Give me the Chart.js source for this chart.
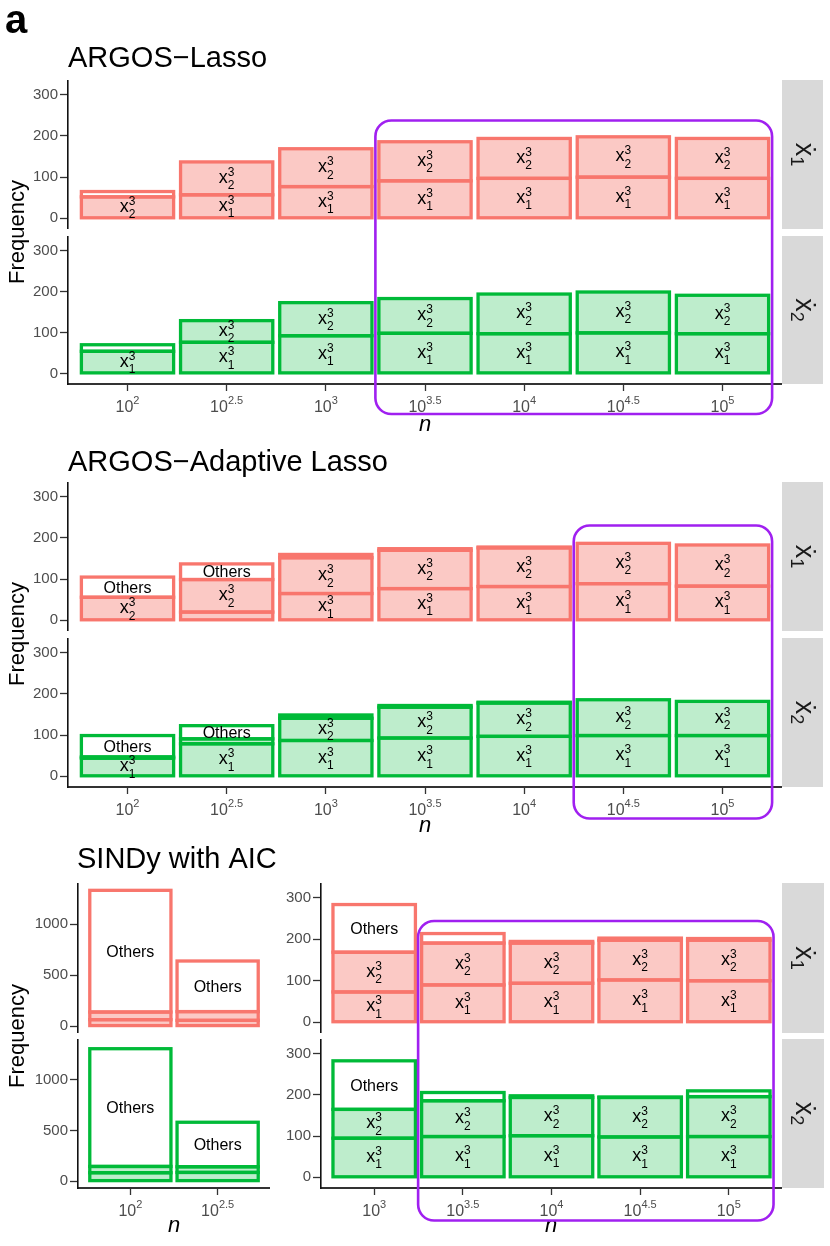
<!DOCTYPE html>
<html>
<head>
<meta charset="utf-8">
<script src="https://cdn.jsdelivr.net/npm/chart.js@4.4.1/dist/chart.umd.min.js"></script>
<style>
    html, body { margin: 0; padding: 0; background: #fff; }
    #page { position: relative; width: 830px; height: 1246px; overflow: hidden; }
    #page canvas { position: absolute; }
</style>
</head>
<body>
<div id="page"></div>
<script>
// Tick labels (n = 10^exp)
const lassoExp = ['2', '2.5', '3', '3.5', '4', '4.5', '5'];
const sindyLeftExp = ['2', '2.5'];
const sindyRightExp = ['3', '3.5', '4', '4.5', '5'];
const smallTicks = [0, 100, 200, 300];
const bigTicks = [0, 500, 1000];

// ARGOS-Lasso: frequency of x1^3, x2^3 and other terms
const lassoX1dotX1 = [0, 57, 77, 91, 97, 100, 97];
const lassoX1dotX2 = [52, 80, 92, 95, 97, 98, 97];
const lassoX1dotOth = [13, 0, 0, 0, 0, 0, 0];
const lassoX2dotX1 = [54, 76, 92, 98, 97, 99, 97];
const lassoX2dotX2 = [0, 53, 81, 85, 97, 100, 94];
const lassoX2dotOth = [16, 0, 0, 0, 0, 0, 0];

// ARGOS-Adaptive Lasso
const adaX1dotX1 = [0, 20, 65, 77, 82, 89, 83];
const adaX1dotX2 = [56, 79, 87, 93, 94, 98, 100];
const adaX1dotOth = [49, 38, 8, 4, 2, 0, 0];
const adaX2dotX1 = [44, 79, 87, 93, 97, 99, 99];
const adaX2dotX2 = [3, 12, 54, 75, 81, 87, 83];
const adaX2dotOth = [52, 32, 8, 4, 2, 0, 0];

// SINDy with AIC, small n (own y scale)
const sindyLX1dotX1 = [63, 56];
const sindyLX1dotX2 = [75, 86];
const sindyLX1dotOth = [1195, 497];
const sindyLX2dotX1 = [83, 86];
const sindyLX2dotX2 = [62, 56];
const sindyLX2dotOth = [1164, 440];

// SINDy with AIC, large n
const sindyRX1dotX1 = [73, 90, 94, 102, 100];
const sindyRX1dotX2 = [96, 101, 97, 96, 98];
const sindyRX1dotOth = [115, 23, 4, 5, 4];
const sindyRX2dotX1 = [95, 99, 101, 98, 99];
const sindyRX2dotX2 = [70, 87, 93, 96, 97];
const sindyRX2dotOth = [118, 20, 4, 1, 14];

// Styles
const FONT = '"Liberation Sans", Arial, Helvetica, sans-serif';
const RED = '#F8766D', RED_FILL = '#FBC9C5';
const GREEN = '#00BA38', GREEN_FILL = '#BEEDCC';
const PURPLE = '#A020F0';
const AXIS_H = 36;
const page = document.getElementById('page');

// Draws "x" with sub- and superscript, centred on (cx, cy)
function drawTerm(ctx, sub, sup, cx, cy) {
    ctx.font = '18px ' + FONT;
    const wx = ctx.measureText('x').width;
    ctx.font = '12px ' + FONT;
    const ws = ctx.measureText(sup).width;
    const x0 = cx - (wx + ws) / 2;
    ctx.textAlign = 'left';
    ctx.textBaseline = 'alphabetic';
    ctx.font = '18px ' + FONT;
    ctx.fillText('x', x0, cy + 4.5);
    ctx.font = '12px ' + FONT;
    ctx.fillText(sup, x0 + wx, cy - 2.5);
    ctx.fillText(sub, x0 + wx, cy + 11);
}

// Outlines, segment labels and tick labels
const panelPlugin = {
    id: 'panel',
    afterDatasetsDraw(chart) {
        const ctx = chart.ctx;
        const opts = chart.options.plugins.panel;
        ctx.save();
        chart.data.datasets.forEach((ds, di) => {
            chart.getDatasetMeta(di).data.forEach((bar, i) => {
                if (!(ds.data[i] > 0)) return;
                const { x, y, base, width } = bar.getProps(['x', 'y', 'base', 'width'], true);
                ctx.strokeStyle = opts.color;
                ctx.lineWidth = 3.3;
                ctx.strokeRect(x - width / 2, Math.min(y, base), width, Math.abs(base - y));
            });
        });
        ctx.fillStyle = '#000';
        chart.data.datasets.forEach((ds, di) => {
            chart.getDatasetMeta(di).data.forEach((bar, i) => {
                if (!(ds.data[i] > 0)) return;
                const { x, y, base } = bar.getProps(['x', 'y', 'base'], true);
                if (Math.abs(base - y) < 12) return;
                const cy = (y + base) / 2;
                if (ds.kind === 'oth') {
                    ctx.font = '16px ' + FONT;
                    ctx.textAlign = 'center';
                    ctx.textBaseline = 'middle';
                    ctx.fillText('Others', x, cy + 1);
                } else {
                    drawTerm(ctx, ds.kind === 'x1' ? '1' : '2', '3', x, cy);
                }
            });
        });
        ctx.restore();
    },
    afterDraw(chart) {
        const ctx = chart.ctx;
        const opts = chart.options.plugins.panel;
        const area = chart.chartArea;
        const sy = chart.scales.y, sx = chart.scales.x;
        ctx.save();
        ctx.fillStyle = '#4D4D4D';
        ctx.font = '15px ' + FONT;
        ctx.textAlign = 'right';
        ctx.textBaseline = 'middle';
        sy.ticks.forEach(t => ctx.fillText(String(t.value), area.left - 10, sy.getPixelForValue(t.value)));
        if (opts.showX) {
            opts.exps.forEach((e, i) => {
                const px = sx.getPixelForValue(i);
                ctx.font = '16px ' + FONT;
                const w10 = ctx.measureText('10').width;
                ctx.font = '11px ' + FONT;
                const we = ctx.measureText(e).width;
                const x0 = px - (w10 + we) / 2;
                ctx.textAlign = 'left';
                ctx.textBaseline = 'alphabetic';
                ctx.font = '16px ' + FONT;
                ctx.fillText('10', x0, area.bottom + 28);
                ctx.font = '11px ' + FONT;
                ctx.fillText(e, x0 + w10, area.bottom + 19.5);
            });
        }
        ctx.restore();
    }
};

// One facet panel = one chart
function makePanel(p) {
    const h = p.plotH + (p.showX ? AXIS_H : 0);
    const cv = document.createElement('canvas');
    cv.width = p.width;
    cv.height = h;
    cv.style.left = p.left + 'px';
    cv.style.top = p.top + 'px';
    cv.style.width = p.width + 'px';
    cv.style.height = h + 'px';
    page.appendChild(cv);

    const mk = (vals, kind) => ({
        label: kind,
        kind: kind,
        data: vals,
        backgroundColor: kind === 'oth' ? '#ffffff' : p.fill,
        borderWidth: 0,
        categoryPercentage: 1,
        barPercentage: 0.93
    });

    const xScale = {
        type: 'linear', stacked: true, offset: false, display: p.showX,
        min: -0.6, max: p.exps.length - 0.4,
        ticks: { display: false },
        afterBuildTicks: s => { s.ticks = p.exps.map((_, i) => ({ value: i })); },
        grid: { offset: false, drawOnChartArea: false, drawTicks: true, tickLength: 7, tickColor: '#333', tickWidth: 1.3 },
        border: { display: true, color: '#333', width: 2 }
    };
    if (p.showX) xScale.afterFit = s => { s.height = AXIS_H; };

    return new Chart(cv, {
        type: 'bar',
        data: {
            labels: p.exps.map((_, i) => i),
            datasets: [mk(p.x1, 'x1'), mk(p.x2, 'x2'), mk(p.oth, 'oth')]
        },
        options: {
            responsive: false,
            animation: false,
            layout: { padding: 0 },
            plugins: {
                legend: { display: false },
                tooltip: { enabled: false },
                panel: { color: p.color, showX: p.showX, exps: p.exps }
            },
            scales: {
                x: xScale,
                y: {
                    type: 'linear', stacked: true, min: p.yMin, max: p.yMax,
                    ticks: { display: false },
                    afterBuildTicks: s => { s.ticks = p.yTicks.map(v => ({ value: v })); },
                    grid: { drawOnChartArea: false, drawTicks: true, tickLength: 8, tickColor: '#333', tickWidth: 1.3 },
                    border: { display: true, color: '#111', width: 1.6 },
                    afterFit: s => { s.width = p.axisW; }
                }
            }
        },
        plugins: [panelPlugin]
    });
}

const small = { yMin: -26, yMax: 336, yTicks: smallTicks };
const big = { yMin: -68, yMax: 1405, yTicks: bigTicks };

// ARGOS-Lasso
const lassoTop = makePanel({ left: 0, top: 80, width: 782, axisW: 68, plotH: 149, showX: false, exps: lassoExp,
    x1: lassoX1dotX1, x2: lassoX1dotX2, oth: lassoX1dotOth, color: RED, fill: RED_FILL, ...small });
const lassoBot = makePanel({ left: 0, top: 236, width: 782, axisW: 68, plotH: 148, showX: true, exps: lassoExp,
    x1: lassoX2dotX1, x2: lassoX2dotX2, oth: lassoX2dotOth, color: GREEN, fill: GREEN_FILL, ...small });

// ARGOS-Adaptive Lasso
const adaTop = makePanel({ left: 0, top: 482, width: 782, axisW: 68, plotH: 149, showX: false, exps: lassoExp,
    x1: adaX1dotX1, x2: adaX1dotX2, oth: adaX1dotOth, color: RED, fill: RED_FILL, ...small });
const adaBot = makePanel({ left: 0, top: 638, width: 782, axisW: 68, plotH: 149, showX: true, exps: lassoExp,
    x1: adaX2dotX1, x2: adaX2dotX2, oth: adaX2dotOth, color: GREEN, fill: GREEN_FILL, ...small });

// SINDy with AIC
const sindyLTop = makePanel({ left: 0, top: 883, width: 270, axisW: 78, plotH: 150, showX: false, exps: sindyLeftExp,
    x1: sindyLX1dotX1, x2: sindyLX1dotX2, oth: sindyLX1dotOth, color: RED, fill: RED_FILL, ...big });
const sindyLBot = makePanel({ left: 0, top: 1039, width: 270, axisW: 78, plotH: 149, showX: true, exps: sindyLeftExp,
    x1: sindyLX2dotX1, x2: sindyLX2dotX2, oth: sindyLX2dotOth, color: GREEN, fill: GREEN_FILL, ...big });
const sindyRTop = makePanel({ left: 260, top: 883, width: 522, axisW: 61, plotH: 150, showX: false, exps: sindyRightExp,
    x1: sindyRX1dotX1, x2: sindyRX1dotX2, oth: sindyRX1dotOth, color: RED, fill: RED_FILL, ...small });
const sindyRBot = makePanel({ left: 260, top: 1039, width: 522, axisW: 61, plotH: 149, showX: true, exps: sindyRightExp,
    x1: sindyRX2dotX1, x2: sindyRX2dotX2, oth: sindyRX2dotOth, color: GREEN, fill: GREEN_FILL, ...small });

// Overlay: titles, strips, axis titles, highlight boxes
const ov = document.createElement('canvas');
const dpr = window.devicePixelRatio || 1;
ov.width = 830 * dpr;
ov.height = 1246 * dpr;
ov.style.left = '0px';
ov.style.top = '0px';
ov.style.width = '830px';
ov.style.height = '1246px';
ov.style.pointerEvents = 'none';
page.appendChild(ov);
const g = ov.getContext('2d');
g.scale(dpr, dpr);
g.fillStyle = '#000';
g.textBaseline = 'alphabetic';

g.font = 'bold 40px ' + FONT;
g.fillText('a', 5, 33);
g.font = '29px ' + FONT;
g.fillText('ARGOS\u2212Lasso', 68, 67);
g.fillText('ARGOS\u2212Adaptive Lasso', 68, 471);
g.fillText('SINDy with AIC', 77, 868);

function strip(x, y, w, h, sub) {
    g.save();
    g.fillStyle = '#D9D9D9';
    g.fillRect(x, y, w, h);
    g.translate(x + w / 2, y + h / 2);
    g.rotate(Math.PI / 2);
    g.fillStyle = '#1A1A1A';
    g.font = '27px ' + FONT;
    const wx = g.measureText('\u1E8B').width;
    g.font = '18px ' + FONT;
    const ws = g.measureText(sub).width;
    const x0 = -(wx + ws) / 2;
    g.font = '27px ' + FONT;
    g.fillText('\u1E8B', x0, 7);
    g.font = '18px ' + FONT;
    g.fillText(sub, x0 + wx, 12);
    g.restore();
}
strip(782, 80, 41, 149, '1');
strip(782, 236, 41, 148, '2');
strip(782, 482, 41, 149, '1');
strip(782, 638, 41, 149, '2');
strip(782, 883, 42, 150, '1');
strip(782, 1039, 42, 149, '2');

function yTitle(cy) {
    g.save();
    g.translate(18, cy);
    g.rotate(-Math.PI / 2);
    g.font = '22px ' + FONT;
    g.textAlign = 'center';
    g.textBaseline = 'middle';
    g.fillStyle = '#000';
    g.fillText('Frequency', 0, 0);
    g.restore();
}
yTitle(232);
yTitle(634);
yTitle(1036);

function xTitle(cx, by) {
    g.save();
    g.font = 'italic 22px ' + FONT;
    g.textAlign = 'center';
    g.fillStyle = '#000';
    g.fillText('n', cx, by);
    g.restore();
}
xTitle(425, 431);
xTitle(425, 832);
xTitle(174, 1232);
xTitle(551, 1232);

// Purple boxes around the chosen n range
function box(chart, canvasLeft, first, last, top, bottom) {
    const sx = chart.scales.x;
    const meta = chart.getDatasetMeta(0);
    const left = canvasLeft + sx.getPixelForValue(first) - meta.data[first].width / 2 - 3.5;
    const right = canvasLeft + sx.getPixelForValue(last) + meta.data[last].width / 2 + 3.5;
    const r = 16;
    g.save();
    g.strokeStyle = PURPLE;
    g.lineWidth = 2.6;
    g.beginPath();
    g.moveTo(left + r, top);
    g.lineTo(right - r, top);
    g.arcTo(right, top, right, top + r, r);
    g.lineTo(right, bottom - r);
    g.arcTo(right, bottom, right - r, bottom, r);
    g.lineTo(left + r, bottom);
    g.arcTo(left, bottom, left, bottom - r, r);
    g.lineTo(left, top + r);
    g.arcTo(left, top, left + r, top, r);
    g.closePath();
    g.stroke();
    g.restore();
}
box(lassoBot, 0, 3, 6, 120.5, 414);
box(adaBot, 0, 5, 6, 525.5, 818.5);
box(sindyRBot, 260, 1, 4, 921, 1220.5);
</script>
</body>
</html>
